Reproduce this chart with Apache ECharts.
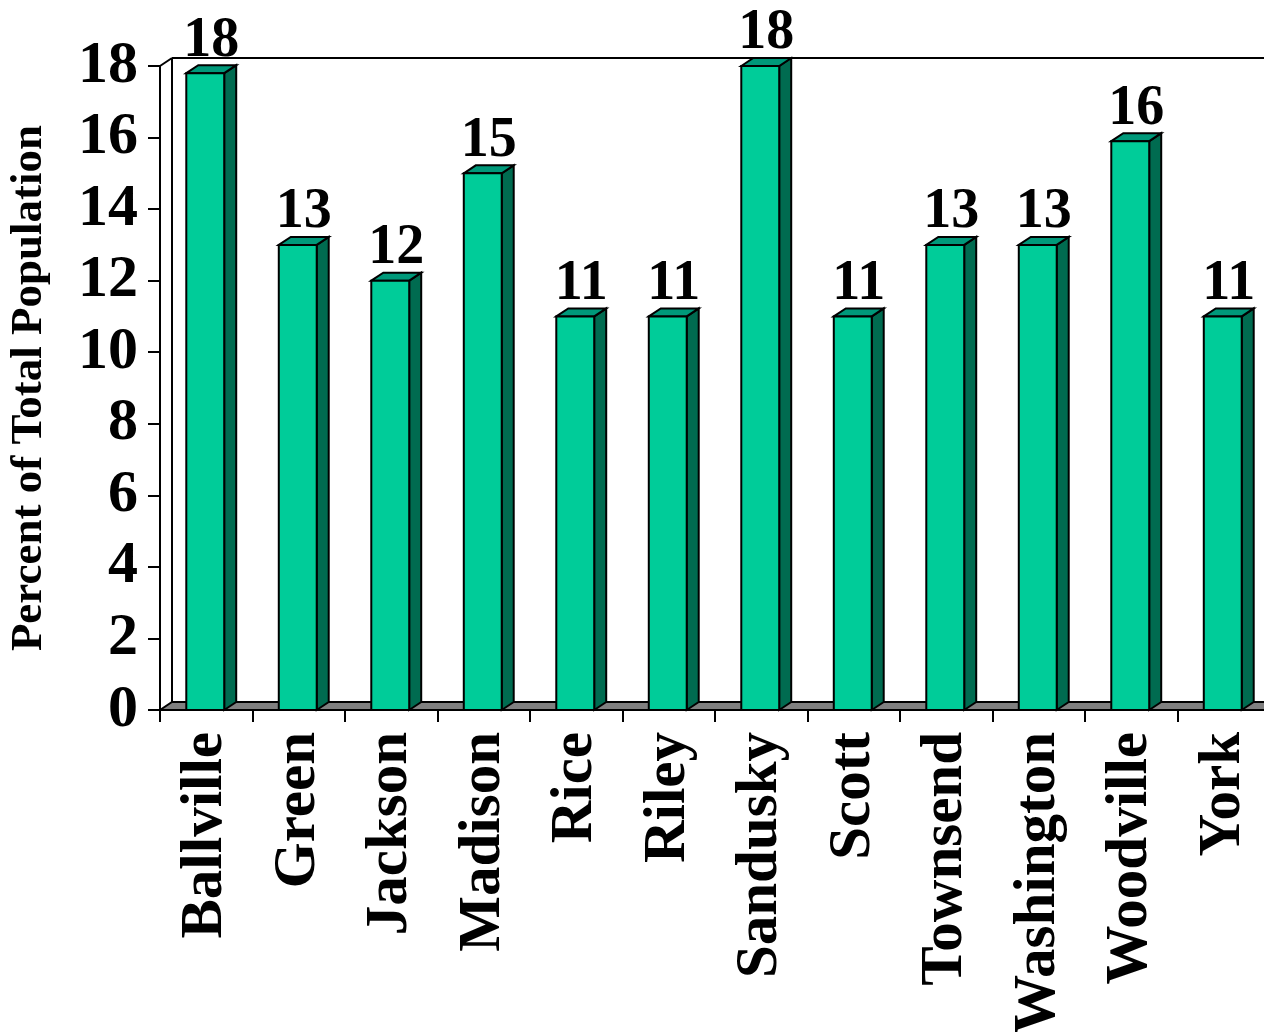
<!DOCTYPE html>
<html>
<head>
<meta charset="utf-8">
<script src="https://cdn.jsdelivr.net/npm/echarts@6/dist/echarts.min.js"></script>
<style>
html,body{margin:0;padding:0;background:#fff;}
#chart{width:1264px;height:1032px;}
</style>
</head>
<body>
<div id="chart"></div>
<script>
var categories = ['Ballville','Green','Jackson','Madison','Rice','Riley','Sandusky','Scott','Townsend','Washington','Woodville','York'];
var values = [17.8, 13, 12, 15, 11, 11, 18, 11, 13, 13, 15.9, 11];
var yTicks = [0, 2, 4, 6, 8, 10, 12, 14, 16, 18];
var yTitle = 'Percent of Total Population';

var FONT = '"Liberation Serif","Times New Roman",serif';
var DX = 12, DY = -8;
var FRONT = '#00CC99', SIDE = '#006B50', TOP = '#00997A', FLOOR = '#808080';

var chart = echarts.init(document.getElementById('chart'));

function wallRender(params, api) {
  var cs = params.coordSys;
  var x0 = cs.x, y0 = cs.y + cs.height, x1 = cs.x + cs.width + 20, yt = cs.y;
  var st = {stroke:'#000', lineWidth:2, fill:null};
  return {
    type:'group',
    children:[
      {type:'polygon', shape:{points:[[x0,y0],[x0+DX,y0+DY],[x1,y0+DY],[x1,y0]]}, style:{fill:FLOOR, stroke:'#000', lineWidth:2}},
      {type:'line', shape:{x1:x0+DX,y1:yt+DY,x2:x0+DX,y2:y0+DY}, style:st},
      {type:'line', shape:{x1:x0+DX,y1:yt+DY,x2:x1,y2:yt+DY}, style:st},
      {type:'line', shape:{x1:x0,y1:yt,x2:x0+DX,y2:yt+DY}, style:st}
    ]
  };
}

function barRender(params, api) {
  var idx = api.value(0);
  var v = api.value(1);
  var top = api.coord([idx, v]);
  var base = api.coord([idx, 0]);
  var band = api.size([1, 0])[0];
  var w = band * 0.41;
  var cx = top[0] - 1;
  var l = cx - w/2, r = cx + w/2, t = top[1], b = base[1];
  var ls = {stroke:'#000', lineWidth:2};
  return {
    type:'group',
    children:[
      {type:'polygon', shape:{points:[[r,t],[r+DX,t+DY],[r+DX,b+DY],[r,b]]}, style:Object.assign({fill:SIDE}, ls)},
      {type:'polygon', shape:{points:[[l,t],[l+DX,t+DY],[r+DX,t+DY],[r,t]]}, style:Object.assign({fill:TOP}, ls)},
      {type:'rect', shape:{x:l, y:t, width:w, height:b-t}, style:Object.assign({fill:FRONT}, ls)},
      {type:'text', x:cx + DX/2, y:t - 4, style:{text:String(Math.round(v)), font:'bold 56px ' + FONT, fill:'#000', textAlign:'center', textVerticalAlign:'bottom'}}
    ]
  };
}

chart.setOption({
  animation:false,
  grid:{left:160, top:66, width:1110, height:644, containLabel:false, outerBoundsMode:'none'},
  xAxis:{
    type:'category', data:categories,
    axisLine:{show:false},
    axisTick:{show:true, length:12, alignWithLabel:false, lineStyle:{color:'#000', width:2}},
    axisLabel:{rotate:90, margin:22, fontFamily:FONT, fontWeight:'bold', fontSize:59, color:'#000', interval:0, hideOverlap:false}
  },
  yAxis:{
    type:'value', min:0, max:18, interval:2,
    name:yTitle, nameLocation:'middle', nameGap:108, nameRotate:90,
    nameTextStyle:{fontFamily:FONT, fontWeight:'bold', fontSize:45, color:'#000'},
    axisLine:{show:true, lineStyle:{color:'#000', width:2}},
    axisTick:{show:true, length:12, lineStyle:{color:'#000', width:2}},
    axisLabel:{margin:22, fontFamily:FONT, fontWeight:'bold', fontSize:60, color:'#000',
      formatter:function(v){ return yTicks.indexOf(v) >= 0 ? String(v) : ''; }},
    splitLine:{show:false}
  },
  series:[
    {type:'custom', renderItem:wallRender, data:[[0,0]], clip:false, silent:true, z:1},
    {type:'custom', renderItem:barRender, data:values.map(function(v,i){return [i,v];}), clip:false, z:2,
     encode:{x:0, y:1}}
  ]
});
</script>
</body>
</html>
